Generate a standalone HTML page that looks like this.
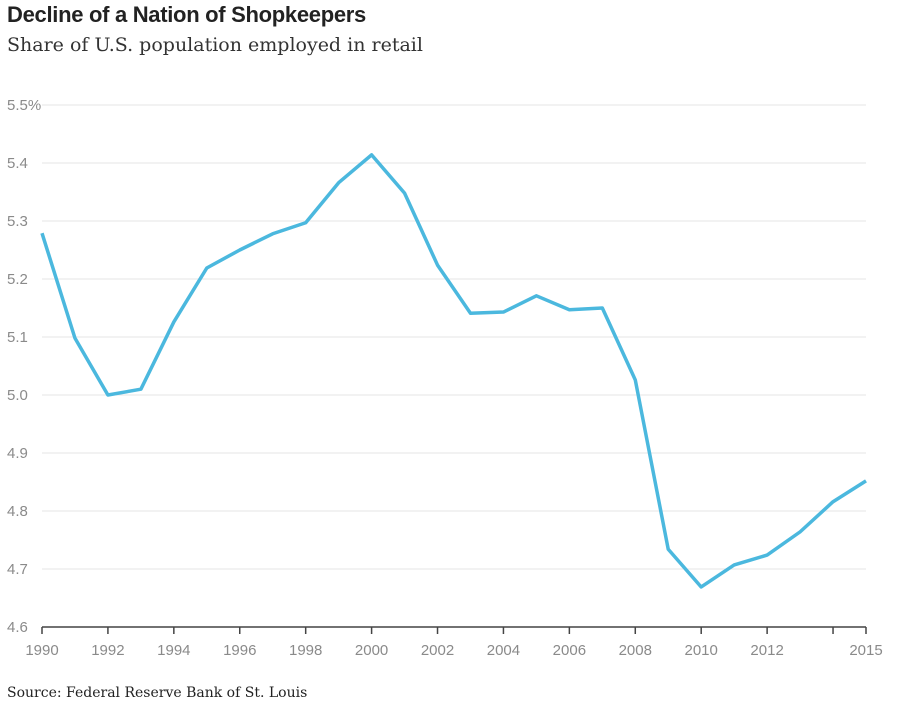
<!DOCTYPE html>
<html><head><meta charset="utf-8"><style>
body{margin:0;background:#fff;width:901px;height:706px;overflow:hidden;position:relative;font-family:"Liberation Sans",sans-serif}
#title{position:absolute;left:7px;top:2px;font-size:22px;font-weight:bold;color:#222;letter-spacing:-0.3px}
#sub{position:absolute;left:7px;top:34px;font-family:"DejaVu Serif",serif;font-size:19px;color:#333}
#src{position:absolute;left:7px;top:685px;font-family:"DejaVu Serif",serif;font-size:14px;color:#222}
svg{position:absolute;left:0;top:0}
</style></head><body>
<div id="title">Decline of a Nation of Shopkeepers</div>
<div id="sub">Share of U.S. population employed in retail</div>
<svg id="chart" width="901" height="706"></svg>
<div id="src">Source: Federal Reserve Bank of St. Louis</div>
<script>
const years=[1990,1991,1992,1993,1994,1995,1996,1997,1998,1999,2000,2001,2002,2003,2004,2005,2006,2007,2008,2009,2010,2011,2012,2013,2014,2015];
const values=[5.279,5.098,5.0,5.01,5.126,5.219,5.25,5.278,5.297,5.366,5.414,5.348,5.224,5.141,5.143,5.171,5.147,5.15,5.026,4.734,4.669,4.707,4.724,4.764,4.816,4.852];
const yTicks=[4.6,4.7,4.8,4.9,5.0,5.1,5.2,5.3,5.4,5.5];
const yTickLabels=["4.6","4.7","4.8","4.9","5.0","5.1","5.2","5.3","5.4","5.5%"];
const xTicks=[1990,1992,1994,1996,1998,2000,2002,2004,2006,2008,2010,2012,2014,2015];
const xTickLabels=["1990","1992","1994","1996","1998","2000","2002","2004","2006","2008","2010","2012","","2015"];
const NS="http://www.w3.org/2000/svg";
const svg=document.getElementById('chart');
const x=v=>42+(v-1990)*(866-42)/25;
const y=v=>627-(v-4.6)*(627-105)/0.9;
function el(t,a){const e=document.createElementNS(NS,t);for(const k in a)e.setAttribute(k,a[k]);svg.appendChild(e);return e;}
yTicks.forEach((t,i)=>{
  if(i>0){const g=el('line',{x1:42,x2:866,y1:y(t),y2:y(t),stroke:'#e6e6e6','stroke-width':1});
  
  }
  const l=el('text',{x:7,y:y(t)+5,'font-size':15,fill:'#8a8a8a','font-family':'Liberation Sans, sans-serif'});
  l.textContent=yTickLabels[i];
  
  
});
const ax=el('line',{x1:42,x2:866,y1:627,y2:627,stroke:'#444','stroke-width':1.5});


xTicks.forEach((t,i)=>{
  const tk=el('line',{x1:x(t),x2:x(t),y1:627,y2:634,stroke:'#444','stroke-width':1.5});
  
  
  if(xTickLabels[i]){
    const l=el('text',{x:x(t),y:655,'font-size':15,fill:'#8a8a8a','text-anchor':'middle','font-family':'Liberation Sans, sans-serif'});
    l.textContent=xTickLabels[i];
    
    
  }
});
const p=el('polyline',{points:years.map((yr,i)=>x(yr)+','+y(values[i])).join(' '),fill:'none',stroke:'#4bb8de','stroke-width':3.5,'stroke-linejoin':'round'});


</script>
</body></html>
